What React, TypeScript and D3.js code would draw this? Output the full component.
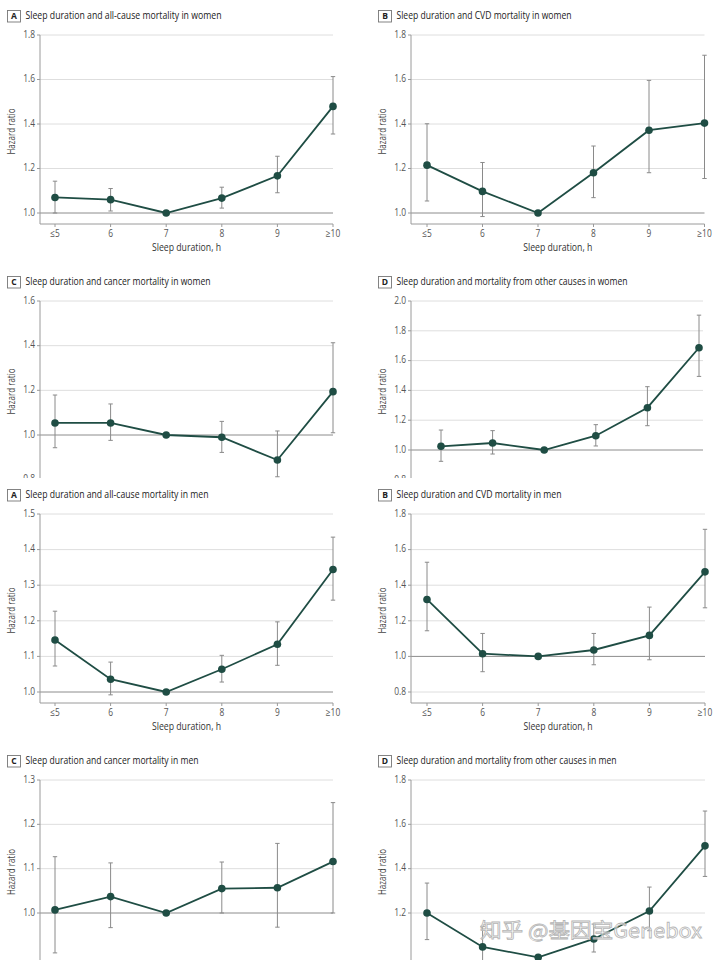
import React from 'react';
import * as d3 from 'd3';

const categories = ['≤5', '6', '7', '8', '9', '≥10'];

const titles = [
  'Sleep duration and all-cause mortality in women',
  'Sleep duration and CVD mortality in women',
  'Sleep duration and cancer mortality in women',
  'Sleep duration and mortality from other causes in women',
  'Sleep duration and all-cause mortality in men',
  'Sleep duration and CVD mortality in men',
  'Sleep duration and cancer mortality in men',
  'Sleep duration and mortality from other causes in men',
];
const panelLetters = ['A', 'B', 'C', 'D', 'A', 'B', 'C', 'D'];

// Hazard ratios and 95% CI (reference category 7 h has no interval)
const womenAllHR = [1.07, 1.06, 1.0, 1.067, 1.167, 1.479];
const womenAllLo = [1.0, 1.009, null, 1.022, 1.091, 1.355];
const womenAllHi = [1.143, 1.11, null, 1.116, 1.255, 1.613];

const womenCvdHR = [1.215, 1.097, 1.0, 1.181, 1.372, 1.404];
const womenCvdLo = [1.054, 0.984, null, 1.069, 1.181, 1.155];
const womenCvdHi = [1.401, 1.227, null, 1.301, 1.596, 1.709];

const womenCancerHR = [1.054, 1.054, 1.0, 0.99, 0.888, 1.194];
const womenCancerLo = [0.943, 0.976, null, 0.922, 0.813, 1.01];
const womenCancerHi = [1.179, 1.139, null, 1.061, 1.018, 1.413];

const womenOtherHR = [1.025, 1.047, 1.0, 1.096, 1.284, 1.686];
const womenOtherLo = [0.924, 0.973, null, 1.027, 1.163, 1.494];
const womenOtherHi = [1.134, 1.13, null, 1.17, 1.425, 1.905];

const menAllHR = [1.146, 1.036, 1.0, 1.064, 1.134, 1.344];
const menAllLo = [1.073, 0.992, null, 1.028, 1.075, 1.258];
const menAllHi = [1.227, 1.084, null, 1.103, 1.197, 1.435];

const menCvdHR = [1.32, 1.015, 1.0, 1.036, 1.118, 1.475];
const menCvdLo = [1.144, 0.914, null, 0.953, 0.981, 1.273];
const menCvdHi = [1.529, 1.129, null, 1.129, 1.277, 1.714];

const menCancerHR = [1.007, 1.037, 1.0, 1.055, 1.057, 1.116];
const menCancerLo = [0.91, 0.967, null, 1.0, 0.968, 1.0];
const menCancerHi = [1.127, 1.113, null, 1.115, 1.157, 1.249];

const menOtherHR = [1.2, 1.047, 1.0, 1.083, 1.209, 1.503];
const menOtherLo = [1.08, 0.93, null, 1.024, 1.12, 1.365];
const menOtherHi = [1.335, 1.14, null, 1.15, 1.317, 1.66];

// y-axis tick labels
const ticksWomenAll = [1.0, 1.2, 1.4, 1.6, 1.8];
const ticksWomenCvd = [1.0, 1.2, 1.4, 1.6, 1.8];
const ticksWomenCancer = [0.8, 1.0, 1.2, 1.4, 1.6];
const ticksWomenOther = [0.8, 1.0, 1.2, 1.4, 1.6, 1.8, 2.0];
const ticksMenAll = [1.0, 1.1, 1.2, 1.3, 1.4, 1.5];
const ticksMenCvd = [0.8, 1.0, 1.2, 1.4, 1.6, 1.8];
const ticksMenCancer = [1.0, 1.1, 1.2, 1.3];
const ticksMenOther = [1.2, 1.4, 1.6, 1.8];

const seriesHR = [womenAllHR, womenCvdHR, womenCancerHR, womenOtherHR, menAllHR, menCvdHR, menCancerHR, menOtherHR];
const seriesLo = [womenAllLo, womenCvdLo, womenCancerLo, womenOtherLo, menAllLo, menCvdLo, menCancerLo, menOtherLo];
const seriesHi = [womenAllHi, womenCvdHi, womenCancerHi, womenOtherHi, menAllHi, menCvdHi, menCancerHi, menOtherHi];
const seriesTicks = [ticksWomenAll, ticksWomenCvd, ticksWomenCancer, ticksWomenOther, ticksMenAll, ticksMenCvd, ticksMenCancer, ticksMenOther];

const xTitle = 'Sleep duration, h';
const yTitle = 'Hazard ratio';
const watermark = '知乎 @基因宝Genebox';

// layout (pixels)
type Layout = {
  clip: [number, number, number, number];
  axisX: number; x0: number; x1: number; gridR: number;
  yDom: [number, number]; yRng: [number, number];
  titleY: number; xAxisY: number | null; boxX: number; titleX: number; yLabX: number; titleW: number;
};
const L = 0, R = 371;
const mk = (col: number, clip: [number, number, number, number], x0: number, x1: number, gridR: number,
  yDom: [number, number], yRng: [number, number], titleY: number, xAxisY: number | null, titleW: number): Layout => ({
  clip, axisX: 40 + col, x0, x1, gridR, yDom, yRng, titleY, xAxisY,
  boxX: 7 + col, titleX: 25.5 + col, yLabX: 12 + col, titleW,
});
const layouts: Layout[] = [
  mk(L, [0, 0, 360, 262], 55, 333, 333, [1.0, 1.8], [213, 35], 16, 224, 196),
  mk(R, [360, 0, 360, 262], 427, 704.5, 704.5, [1.0, 1.8], [213, 35], 16, 224, 175),
  mk(L, [0, 262, 360, 216], 55, 333, 333, [1.0, 1.6], [435, 301], 282, null, 185),
  mk(R, [360, 262, 360, 216], 441, 699, 703, [1.0, 2.0], [450, 301], 282, null, 231),
  mk(L, [0, 480, 360, 258], 55, 333, 333, [1.0, 1.5], [692, 514], 495, 703, 183),
  mk(R, [360, 480, 360, 258], 427, 705, 705, [0.8, 1.8], [692, 514], 495, 703, 165),
  mk(L, [0, 738, 360, 222], 55, 333, 333, [1.0, 1.3], [913, 780], 761, null, 173),
  mk(R, [360, 738, 360, 222], 427, 705, 705, [1.2, 1.8], [913, 780], 761, null, 220),
];

const FONT = '"Open Sans", "Noto Sans", sans-serif';
const SQ = 0.8; // condensed look
const LINE = '#1f4d44';

function CText({ x, y, children, size = 10, anchor = 'start', fill = '#333', weight = 400, rotate = 0, sx = SQ, len }: any) {
  return (
    <text
      transform={`translate(${x},${y}) rotate(${rotate}) scale(${len ? 1 : sx},1)`}
      fontFamily={FONT}
      fontSize={size}
      fontWeight={weight}
      textAnchor={anchor}
      dominantBaseline="middle"
      fill={fill}
      textLength={len}
      lengthAdjust={len ? 'spacingAndGlyphs' : undefined}
    >
      {children}
    </text>
  );
}

function Panel({ i }: { i: number }) {
  const lay = layouts[i];
  const hr = seriesHR[i], lo = seriesLo[i], hi = seriesHi[i], ticks = seriesTicks[i];
  const x = d3.scalePoint<string>().domain(categories).range([lay.x0, lay.x1]);
  const y = d3.scaleLinear().domain(lay.yDom).range(lay.yRng);
  const [cx, cy, cw, ch] = lay.clip;
  const bottom = lay.xAxisY ?? cy + ch + 5;
  const topY = y(d3.max(ticks) as number);
  const line = d3.line<number>().x((_, k) => x(categories[k]) as number).y((d) => y(d));
  const id = `clip${i}`;
  return (
    <g>
      <defs>
        <clipPath id={id}><rect x={cx} y={cy} width={cw} height={ch} /></clipPath>
      </defs>
      <g clipPath={`url(#${id})`}>
        {/* title */}
        <rect x={lay.boxX + 0.5} y={lay.titleY - 5.5} width={13} height={11.5} fill="#fff" stroke="#777" strokeWidth={0.9} />
        <CText x={lay.boxX + 7} y={lay.titleY + 0.5} size={8.5} weight={700} anchor="middle" fill="#222" sx={1}>{panelLetters[i]}</CText>
        <CText x={lay.titleX} y={lay.titleY} size={11.5} fill="#222" len={lay.titleW}>{titles[i]}</CText>

        {/* grid */}
        {ticks.map((t) => (
          <line key={t} x1={lay.axisX} x2={lay.gridR} y1={y(t)} y2={y(t)}
            stroke={t === 1 ? '#8c8c8c' : '#dedede'} strokeWidth={1} />
        ))}
        {/* y axis */}
        <line x1={lay.axisX} x2={lay.axisX} y1={topY} y2={bottom} stroke="#9a9a9a" strokeWidth={1} />
        {ticks.map((t) => (
          <g key={'t' + t}>
            <line x1={lay.axisX - 3} x2={lay.axisX} y1={y(t)} y2={y(t)} stroke="#9a9a9a" strokeWidth={1} />
            <CText x={lay.axisX - 5} y={y(t)} anchor="end" fill="#555" size={10.5}>{d3.format('.1f')(t)}</CText>
          </g>
        ))}
        <CText x={lay.yLabX} y={(topY + Math.min(bottom, cy + ch)) / 2 + 2} anchor="middle" rotate={-90} fill="#444" size={10.5} len={46}>{yTitle}</CText>

        {/* x axis */}
        {lay.xAxisY !== null && (
          <g>
            <line x1={lay.axisX} x2={lay.x1} y1={lay.xAxisY} y2={lay.xAxisY} stroke="#9a9a9a" strokeWidth={1} />
            {categories.map((c) => (
              <g key={c}>
                <line x1={x(c)} x2={x(c)} y1={lay.xAxisY!} y2={lay.xAxisY! + 3} stroke="#9a9a9a" strokeWidth={1} />
                <CText x={x(c)} y={lay.xAxisY! + 10.5} anchor="middle" fill="#555" size={10.5}>{c}</CText>
              </g>
            ))}
            <CText x={(lay.axisX + lay.x1) / 2} y={lay.xAxisY + 24.5} anchor="middle" fill="#333" size={11} len={69}>{xTitle}</CText>
          </g>
        )}

        {/* error bars */}
        {categories.map((c, k) => {
          if (lo[k] == null || hi[k] == null) return null;
          const px = x(c) as number;
          return (
            <g key={'e' + c} stroke="#8a8a8a" strokeWidth={1}>
              <line x1={px} x2={px} y1={y(lo[k] as number)} y2={y(hi[k] as number)} />
              <line x1={px - 2.2} x2={px + 2.2} y1={y(lo[k] as number)} y2={y(lo[k] as number)} />
              <line x1={px - 2.2} x2={px + 2.2} y1={y(hi[k] as number)} y2={y(hi[k] as number)} />
            </g>
          );
        })}
        {/* line and points */}
        <path d={line(hr) as string} fill="none" stroke={LINE} strokeWidth={1.8} />
        {categories.map((c, k) => (
          <circle key={'p' + c} cx={x(c)} cy={y(hr[k])} r={3.8} fill={LINE} />
        ))}
      </g>
    </g>
  );
}

export default function App() {
  return (
    <svg width={720} height={960} viewBox="0 0 720 960"
      style={{ position: 'absolute', left: 0, top: 0, background: '#fff' }}>
      <rect x={0} y={0} width={720} height={960} fill="#fff" />
      {layouts.map((_, i) => <Panel key={i} i={i} />)}
      <text x={480} y={933} fontFamily='"Noto Sans CJK SC", sans-serif' fontSize={20}
        textLength={222} lengthAdjust="spacingAndGlyphs" dominantBaseline="middle"
        fill="rgba(255,255,255,0.55)" stroke="#b5b5b5" strokeWidth={0.8}>{watermark}</text>
    </svg>
  );
}
